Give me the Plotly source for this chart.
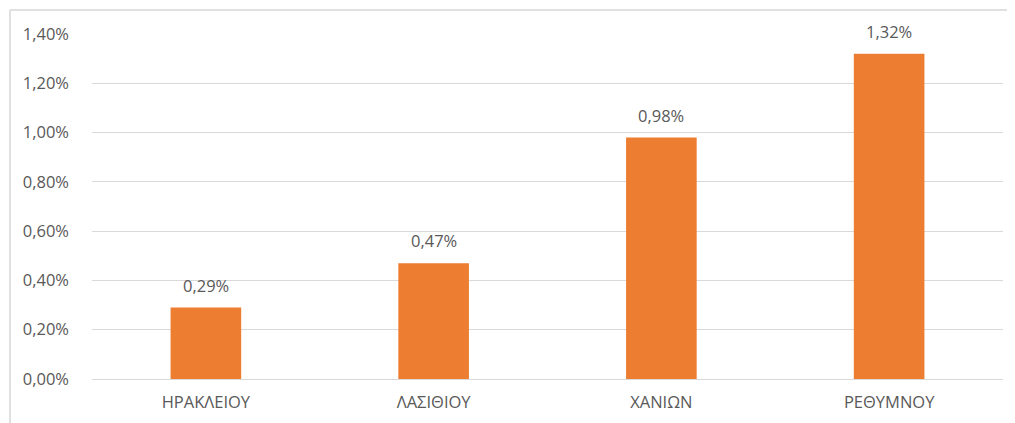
import plotly.graph_objects as go

categories = ["ΗΡΑΚΛΕΙΟΥ", "ΛΑΣΙΘΙΟΥ", "ΧΑΝΙΩΝ", "ΡΕΘΥΜΝΟΥ"]
values = [0.0029, 0.0047, 0.0098, 0.0132]
tick_values = [0, 0.002, 0.004, 0.006, 0.008, 0.010, 0.012, 0.014]

TEXT = "#595959"
GRID = "#d9d9d9"
FONT = "Open Sans"

fig = go.Figure()
fig.add_trace(go.Bar(
    x=categories, y=values,
    marker=dict(color="#ed7d31", line=dict(width=0)),
    width=0.31,
    hoverinfo="skip",
))

for c, v in zip(categories, values):
    fig.add_annotation(
        x=c, y=v, text=f"{v*100:.2f}%".replace(".", ","),
        showarrow=False, yanchor="bottom", yshift=9,
        font=dict(family=FONT, size=16.5, color=TEXT),
    )

fig.update_layout(
    width=1015, height=423,
    margin=dict(l=84, r=20, t=26, b=52),
    paper_bgcolor="white", plot_bgcolor="white",
    separators=",.",
    showlegend=False,
    font=dict(family=FONT, size=16, color=TEXT),
    xaxis=dict(showgrid=False, showline=False, ticks="", ticklabelstandoff=11,
               tickfont=dict(family=FONT, size=16.5, color=TEXT)),
    yaxis=dict(range=[0, 0.014], tickvals=tick_values, tickformat=".2%",
               showgrid=True, gridcolor=GRID, gridwidth=1,
               zeroline=True, zerolinecolor=GRID, zerolinewidth=1,
               showline=False, ticks="", ticklabelstandoff=22,
               tickfont=dict(family=FONT, size=16.5, color=TEXT)),
    shapes=[
        dict(type="line", xref="paper", yref="paper",
             x0=(10 - 92) / 911, x1=(10 - 92) / 911, y0=-0.3, y1=1 + 24 / 345,
             line=dict(color="#e0e0e0", width=2)),
        dict(type="line", xref="paper", yref="paper",
             x0=(10 - 92) / 911, x1=1.1, y0=1 + 24 / 345, y1=1 + 24 / 345,
             line=dict(color="#e0e0e0", width=2)),
    ],
)

fig.write_html("out.html")
